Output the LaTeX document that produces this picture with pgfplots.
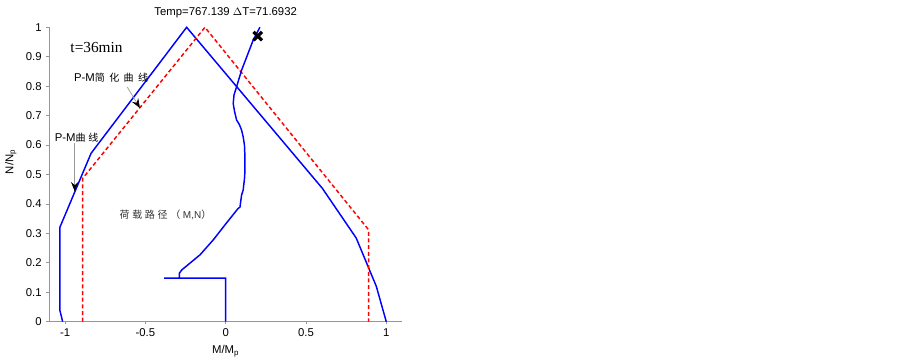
\documentclass[border=0pt]{standalone}
\usepackage{fontspec}
\setmainfont{Liberation Sans}
\newfontfamily\cjk{Noto Sans CJK SC}
\newfontfamily\seriffont{Liberation Serif}
\usepackage{pgfplots}
\pgfplotsset{compat=1.18}
\usetikzlibrary{arrows.meta}
\definecolor{axgray}{RGB}{150,150,150}
\begin{document}
\begin{tikzpicture}[x=1pt,y=1pt]
\useasboundingbox (0,0) rectangle (677.25,272.25);
\begin{axis}[
  at={(36.75pt,30.98pt)}, anchor=south west,
  scale only axis, width=265pt, height=220.8pt,
  xmin=-1.1, xmax=1.1, ymin=0, ymax=1,
  axis lines=left, axis line style={-, axgray, line width=0.6pt},
  xtick={-1,-0.5,0,0.5,1},
  ytick={0,0.1,0.2,0.3,0.4,0.5,0.6,0.7,0.8,0.9,1},
  tick align=outside, major tick length=2pt, tick style={axgray, line width=0.6pt},
  ticklabel style={font=\fontsize{8.5}{10}\selectfont},
  /pgf/number format/assume math mode=true,
  /pgf/number format/fixed,
  clip=false,
  xlabel={M/M\textsubscript{p}}, ylabel={N/N\textsubscript{p}},
  label style={font=\fontsize{8.5}{10}\selectfont},
  xlabel style={at={(axis description cs:0.5,-0.065)}, anchor=north},
  ylabel style={at={(axis description cs:-0.108,0.543)}, anchor=center},
]
% P-M curve (blue)
\addplot[blue, line width=1.1pt] coordinates {
  (-1.015,0) (-1.032,0.038) (-1.032,0.321) (-0.838,0.572) (-0.243,1)
  (0.602,0.453) (0.813,0.284) (0.938,0.12) (1.0,0)
};
% simplified P-M curve (red dashed)
\addplot[red, line width=1.1pt, dash pattern=on 3pt off 2pt] coordinates {
  (-0.89,0) (-0.89,0.487) (-0.129,1) (0.89,0.312) (0.89,0)
};
% load path
\addplot[blue, line width=1.1pt] coordinates {
  (0,0) (0,0.148) (-0.383,0.148) (-0.288,0.148) (-0.288,0.165)
  (-0.273,0.176) (-0.222,0.199) (-0.16,0.227) (-0.077,0.278) (-0.004,0.329)
  (0.078,0.385) (0.089,0.389) (0.099,0.43) (0.109,0.447) (0.118,0.49)
  (0.12,0.515) (0.12,0.56) (0.117,0.6) (0.109,0.628) (0.099,0.651)
  (0.085,0.67) (0.068,0.685) (0.055,0.715) (0.047,0.741) (0.052,0.77)
  (0.068,0.798) (0.099,0.854) (0.135,0.905) (0.171,0.956) (0.213,1.0)
};
\addplot[only marks, mark=x, mark size=4.5pt, black, line width=2.4pt] coordinates {(0.2,0.97)};
% annotations
\node[font=\fontsize{8.5}{10}\selectfont] at (axis cs:0,1.048) {Temp=767.139 $\Delta$T=71.6932};
\node[font=\seriffont\fontsize{11.5}{13}\selectfont] at (axis cs:-0.804,0.931) {t=36min};
\node[font=\fontsize{8.5}{10}\selectfont, inner sep=0pt] at (axis cs:-0.713,0.828)
  {P-M{\cjk\fontsize{7.5}{9}\selectfont 简\hspace{3.3pt}化\hspace{3.3pt}曲\hspace{3.3pt}线}};
\node[font=\fontsize{8.5}{10}\selectfont, inner sep=0pt] at (axis cs:-0.928,0.624)
  {P-M{\cjk\fontsize{7.5}{9}\selectfont 曲\hspace{2pt}线}};
\node[font=\cjk\fontsize{7.5}{9}\selectfont, inner sep=0pt, text=black!80] at (axis cs:-0.375,0.363)
  {荷\hspace{2pt}载\hspace{2pt}路\hspace{2pt}径\hspace{2pt}（\hspace{2pt}{\fontspec{Liberation Sans}M,N}）};
\draw[black!40, line width=0.5pt, -{Stealth[black, length=7pt, width=5.5pt, inset=2.5pt]}]
  (axis cs:-0.614,0.798) -- (axis cs:-0.534,0.726);
\draw[black!40, line width=0.5pt, -{Stealth[black, length=7pt, width=5.5pt, inset=2.5pt]}]
  (axis cs:-0.94,0.607) -- (axis cs:-0.94,0.443);
\end{axis}
\end{tikzpicture}
\end{document}
